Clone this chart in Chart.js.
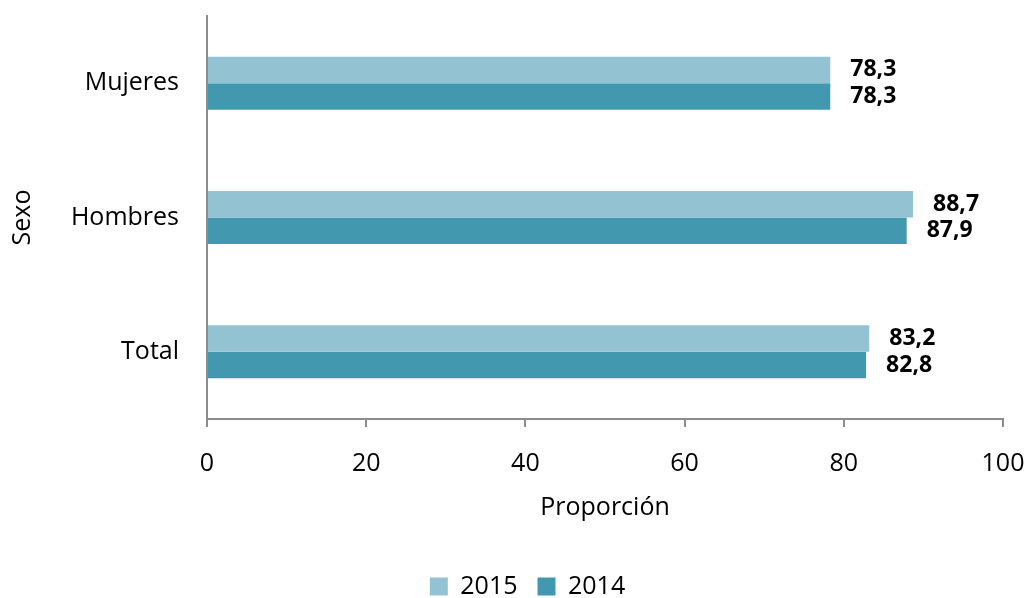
<!DOCTYPE html>
<html>
<head>
<meta charset="utf-8">
<script src="https://cdn.jsdelivr.net/npm/chart.js@4"></script>
<style>
  html, body { margin: 0; padding: 0; background: #fff; }
  #wrap { width: 1031px; height: 598px; }
</style>
</head>
<body>
<div id="wrap"><canvas id="grafico"></canvas></div>
<script>
const sexos = ['Mujeres', 'Hombres', 'Total'];
const datos2015 = [78.3, 88.7, 83.2];
const datos2014 = [78.3, 87.9, 82.8];
const ticksX = [0, 20, 40, 60, 80, 100];

const fuente = 'Open Sans';
const gris = '#8c8c8c';

// etiquetas de valor a la derecha de cada barra
const etiquetas = {
    id: 'etiquetas',
    afterDatasetsDraw(chart) {
        const ctx = chart.ctx;
        ctx.save();
        ctx.font = 'bold 23px "' + fuente + '"';
        ctx.fillStyle = '#000';
        ctx.textAlign = 'left';
        ctx.textBaseline = 'middle';
        chart.data.datasets.forEach((ds, i) => {
            chart.getDatasetMeta(i).data.forEach((bar, j) => {
                const texto = ds.data[j].toFixed(1).replace('.', ',');
                ctx.fillText(texto, bar.x + 20, bar.y);
            });
        });
        ctx.restore();
    }
};

// baja y centra un poco la leyenda
const moverLeyenda = {
    id: 'moverLeyenda',
    afterLayout(chart) {
        const lg = chart.legend;
        if (lg) {
            lg.top += 11;
            lg.bottom += 11;
            lg.left += 26;
            lg.right += 26;
        }
    }
};

const ctx = document.getElementById('grafico').getContext('2d');
const grafico = new Chart(ctx, {
    type: 'bar',
    data: {
        labels: sexos,
        datasets: [
            {
                label: '2015',
                data: datos2015,
                backgroundColor: '#93c3d3',
                categoryPercentage: 0.395,
                barPercentage: 1
            },
            {
                label: '2014',
                data: datos2014,
                backgroundColor: '#4298af',
                categoryPercentage: 0.395,
                barPercentage: 1
            }
        ]
    },
    options: {
        indexAxis: 'y',
        responsive: true,
        maintainAspectRatio: false,
        animation: false,
        layout: {
            padding: { top: 16, right: 28, left: 0, bottom: 0 }
        },
        plugins: {
            legend: {
                position: 'bottom',
                labels: {
                    boxWidth: 18,
                    boxHeight: 18,
                    padding: 20,
                    color: '#000',
                    font: { family: fuente, size: 25 }
                }
            },
            tooltip: { enabled: false }
        },
        scales: {
            x: {
                min: 0,
                max: 100,
                afterBuildTicks: (scale) => {
                    scale.ticks = ticksX.map(v => ({ value: v }));
                },
                afterFit: (scale) => {
                    scale.height = 124;
                    scale.paddingLeft = 0;
                    scale.paddingRight = 0;
                },
                ticks: {
                    color: '#000',
                    padding: 22,
                    font: { family: fuente, size: 25 }
                },
                grid: {
                    drawOnChartArea: false,
                    drawTicks: true,
                    tickLength: 8,
                    color: gris,
                    lineWidth: 2
                },
                border: { display: true, color: gris, width: 2 },
                title: {
                    display: true,
                    text: 'Proporción',
                    color: '#000',
                    font: { family: fuente, size: 25 },
                    padding: { top: 0, bottom: 20 }
                }
            },
            y: {
                afterFit: (scale) => { scale.width = 207; },
                ticks: {
                    color: '#000',
                    padding: 0,
                    font: { family: fuente, size: 25 }
                },
                grid: {
                    drawOnChartArea: false,
                    drawTicks: true,
                    tickLength: 28,
                    color: 'rgba(0,0,0,0)'
                },
                border: { display: true, color: gris, width: 2 },
                title: {
                    display: true,
                    text: 'Sexo',
                    color: '#000',
                    font: { family: fuente, size: 25 },
                    padding: { top: 8, bottom: 0 }
                }
            }
        }
    },
    plugins: [etiquetas, moverLeyenda]
});
</script>
</body>
</html>
